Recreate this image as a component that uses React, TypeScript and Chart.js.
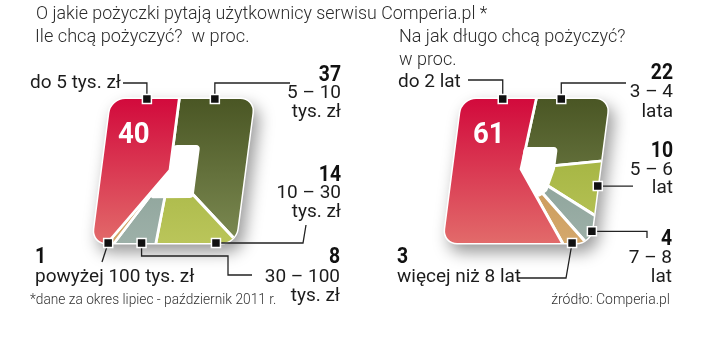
import React, { useEffect, useRef } from 'react';
import { Chart, registerables } from 'chart.js';

Chart.register(...registerables);

// ---------- texts ----------
const TITLE = 'O jakie pożyczki pytają użytkownicy serwisu Comperia.pl *';
const AMOUNT_TITLE = 'Ile chcą pożyczyć?  w proc.';
const DURATION_TITLE = 'Na jak długo chcą pożyczyć?';
const DURATION_UNIT = 'w proc.';
const FOOTNOTE = '*dane za okres lipiec - październik 2011 r.';
const SOURCE = 'źródło: Comperia.pl';

// ---------- data ----------
const amountLabels = [['5 – 10', 'tys. zł'], ['10 – 30', 'tys. zł'], ['30 – 100', 'tys. zł'], ['powyżej 100 tys. zł'], ['do 5 tys. zł']];
const amountValues = [37, 14, 8, 1, 40];
const durationLabels = [['3 – 4', 'lata'], ['5 – 6', 'lat'], ['7 – 8', 'lat'], ['więcej niż 8 lat'], ['do 2 lat']];
const durationValues = [22, 10, 4, 3, 61];

// slice colours (top → bottom gradient)
const sliceGradients = [
  ['#4a5624', '#7c8a52'],
  ['#98ab34', '#bac55a'],
  ['#7d968c', '#9db0a8'],
  ['#bf8946', '#d4a86c'],
  ['#d20a3c', '#e26a6a'],
];

type Seg = any[];
interface Layout {
  center: [number, number];
  radius: number;
  skew: number;
  rotation: number;
  rect: [number, number, number, number];
  corner: number;
  hole: any[];
  markerFrac: number[];
  leaders: Seg[][];
  labelPos: any[];
}

const LEFT: Layout = {
  center: [170, 170],
  radius: 120,
  skew: -0.13,
  rotation: 0,
  rect: [102, 99, 245, 243],
  corner: 14,
  hole: [[0, -25], [27, -25], [27, 28], { ray: 35 }, [0, 0]],
  markerFrac: [0.2, 0.19, 0.38, 0.9, 0.83],
  leaders: [
    [['v', 83], ['h', 290]],
    [['h', 303], ['l', 306, 225]],
    [['v', 256], ['h', 228], ['v', 275], ['h', 252]],
    [['l', 102, 262]],
    [['v', 83], ['h', 123]],
  ],
  labelPos: [
    { x: 341, align: 'right', valueY: 81, lineY: [98, 117] },
    { x: 341, align: 'right', valueY: 181, lineY: [198, 217] },
    { x: 340, align: 'right', valueY: 263, lineY: [282, 301] },
    { x: 35, align: 'left', valueY: 263, lineY: [282] },
    { x: 30, align: 'left', lineY: [88], inner: [118, 143] },
  ],
};

const RIGHT: Layout = {
  center: [521, 169],
  radius: 120,
  skew: -0.13,
  rotation: 5,
  rect: [453, 99, 600, 243],
  corner: 14,
  hole: [[0, -22], [34, -22], [34, 0], [29, 22], { ray: 36 }, [0, 0]],
  markerFrac: [0.24, 0.5, 0.56, 0.56, 0.88],
  leaders: [
    [['v', 83], ['h', 626]],
    [['h', 633]],
    [['h', 647], ['v', 238]],
    [['l', 566, 278], ['h', 518]],
    [['v', 80], ['h', 468]],
  ],
  labelPos: [
    { x: 673, align: 'right', valueY: 79, lineY: [97, 117] },
    { x: 673, align: 'right', valueY: 157, lineY: [175, 193] },
    { x: 672, align: 'right', valueY: 245, lineY: [263, 282] },
    { x: 397, align: 'left', valueY: 263, lineY: [282] },
    { x: 398, align: 'left', lineY: [87], inner: [473, 143] },
  ],
};

const FONT = 'Roboto, "Noto Sans", sans-serif';

function drawText(ctx: CanvasRenderingContext2D, str: string, x: number, y: number, o: any) {
  ctx.save();
  ctx.font = `${o.weight || 400} ${o.size}px ${FONT}`;
  ctx.fillStyle = o.color || '#1c1c1c';
  ctx.textAlign = o.align || 'left';
  ctx.textBaseline = 'alphabetic';
  ctx.translate(x, y);
  ctx.scale(o.sx || 1, 1);
  ctx.fillText(str, 0, 0);
  ctx.restore();
}

function roundRectPath(ctx: CanvasRenderingContext2D, x0: number, y0: number, x1: number, y1: number, r: number) {
  ctx.beginPath();
  ctx.moveTo(x0 + r, y0);
  ctx.arcTo(x1, y0, x1, y1, r);
  ctx.arcTo(x1, y1, x0, y1, r);
  ctx.arcTo(x0, y1, x0, y0, r);
  ctx.arcTo(x0, y0, x1, y0, r);
  ctx.closePath();
}

function roundPolyPath(ctx: CanvasRenderingContext2D, pts: number[][], r: number) {
  const n = pts.length;
  ctx.beginPath();
  const mid = (a: number[], b: number[]) => [(a[0] + b[0]) / 2, (a[1] + b[1]) / 2];
  const start = mid(pts[n - 1], pts[0]);
  ctx.moveTo(start[0], start[1]);
  for (let i = 0; i < n; i++) {
    const p = pts[i];
    const q = pts[(i + 1) % n];
    ctx.arcTo(p[0], p[1], q[0], q[1], r);
  }
  ctx.closePath();
}

function rayRect(cx: number, cy: number, a: number, rect: number[]) {
  const [x0, y0, x1, y1] = rect;
  const c = Math.cos(a);
  const s = Math.sin(a);
  let t = Infinity;
  if (c > 1e-9) t = Math.min(t, (x1 - cx) / c);
  if (c < -1e-9) t = Math.min(t, (x0 - cx) / c);
  if (s > 1e-9) t = Math.min(t, (y1 - cy) / s);
  if (s < -1e-9) t = Math.min(t, (y0 - cy) / s);
  return [cx + c * t, cy + s * t];
}

function buildChart(
  canvas: HTMLCanvasElement,
  values: number[],
  labels: string[][],
  L: Layout,
  extraText: (ctx: CanvasRenderingContext2D) => void
) {
  const [cx0, cy0] = L.center;
  const R = L.radius;
  const k = L.skew;
  const [x0, y0, x1, y1] = L.rect;

  const shapePlugin = {
    id: 'shapePlugin',
    beforeDatasetsDraw(chart: any) {
      const ctx: CanvasRenderingContext2D = chart.ctx;
      const arc0 = chart.getDatasetMeta(0).data[0];
      const cy = arc0 ? arc0.y : cy0;
      ctx.save();
      ctx.transform(1, 0, k, 1, -k * cy, 0);
      // shadow + white rim
      ctx.save();
      ctx.shadowColor = 'rgba(0,0,0,0.4)';
      ctx.shadowBlur = 16;
      ctx.shadowOffsetX = 5;
      ctx.shadowOffsetY = 8;
      roundRectPath(ctx, x0 - 1.5, y0 - 1.5, x1 + 1.5, y1 + 1.5, L.corner + 1.5);
      ctx.fillStyle = '#ffffff';
      ctx.fill();
      ctx.restore();
      roundRectPath(ctx, x0, y0, x1, y1, L.corner);
      ctx.clip();
    },
    afterDatasetsDraw(chart: any) {
      const ctx: CanvasRenderingContext2D = chart.ctx;
      const arcs = chart.getDatasetMeta(0).data;
      const cx = arcs[0].x;
      const cy = arcs[0].y;
      const red = arcs[arcs.length - 1];
      const a = red.startAngle;
      const pts = L.hole.map((p: any) =>
        Array.isArray(p) ? [cx + p[0], cy + p[1]] : [cx + p.ray * Math.cos(a), cy + p.ray * Math.sin(a)]
      );
      roundPolyPath(ctx, pts, 4);
      ctx.fillStyle = '#ffffff';
      ctx.fill();
      ctx.restore();

      const toScreen = (x: number, y: number) => [x + k * (y - cy), y];

      // leaders and markers
      const markers: number[][] = [];
      arcs.forEach((arc: any, i: number) => {
        const ang = arc.startAngle + L.markerFrac[i] * (arc.endAngle - arc.startAngle);
        const [lx, ly] = rayRect(cx, cy, ang, L.rect);
        const [sx, sy] = toScreen(lx, ly);
        markers.push([sx, sy]);
        ctx.save();
        ctx.strokeStyle = '#222';
        ctx.lineWidth = 1.3;
        ctx.beginPath();
        ctx.moveTo(sx, sy);
        let px = sx;
        let py = sy;
        for (const seg of L.leaders[i]) {
          if (seg[0] === 'v') py = seg[1];
          else if (seg[0] === 'h') px = seg[1];
          else {
            px = seg[1];
            py = seg[2];
          }
          ctx.lineTo(px, py);
        }
        ctx.stroke();
        ctx.restore();
      });
      markers.forEach(([sx, sy]) => {
        ctx.save();
        ctx.fillStyle = '#111';
        ctx.strokeStyle = '#ffffff';
        ctx.lineWidth = 1.5;
        ctx.beginPath();
        ctx.rect(sx - 4.5, sy - 4.5, 9, 9);
        ctx.fill();
        ctx.stroke();
        ctx.restore();
      });

      // labels
      values.forEach((v, i) => {
        const p = L.labelPos[i];
        if (p.inner) {
          drawText(ctx, String(v), p.inner[0], p.inner[1], { size: 29, weight: 700, color: '#ffffff', sx: 0.95 });
        } else {
          drawText(ctx, String(v), p.x, p.valueY, { size: 22, weight: 700, color: '#111', align: p.align, sx: 0.88 });
        }
        labels[i].forEach((line, j) => {
          drawText(ctx, line, p.x, p.lineY[j], { size: 19, weight: 400, color: '#1c1c1c', align: p.align });
        });
      });
      extraText(ctx);
    },
  };

  return new Chart(canvas, {
    type: 'pie',
    data: {
      labels: labels.map((l) => l.join(' ')),
      datasets: [
        {
          data: values,
          backgroundColor: (c: any) => {
            const i = c.dataIndex;
            if (i === undefined || !c.chart.ctx) return sliceGradients[0][0];
            const g = c.chart.ctx.createLinearGradient(0, y0, 0, y1);
            g.addColorStop(0, sliceGradients[i][0]);
            g.addColorStop(1, sliceGradients[i][1]);
            return g;
          },
          borderColor: '#ffffff',
          borderWidth: 2.8,
          hoverOffset: 0,
        } as any,
      ],
    },
    options: {
      responsive: false,
      animation: false,
      rotation: L.rotation,
      events: [],
      layout: {
        padding: { left: cx0 - R, top: cy0 - R, right: 720 - cx0 - R, bottom: 353 - cy0 - R },
      },
      plugins: {
        legend: { display: false },
        tooltip: { enabled: false },
        title: { display: false },
      },
    } as any,
    plugins: [shapePlugin],
  });
}

export default function App() {
  const leftRef = useRef<HTMLCanvasElement>(null);
  const rightRef = useRef<HTMLCanvasElement>(null);

  useEffect(() => {
    const left = buildChart(leftRef.current!, amountValues, amountLabels, LEFT, (ctx) => {
      drawText(ctx, TITLE, 36, 19, { size: 18, weight: 300, color: '#2b2b2b', sx: 0.99 });
      drawText(ctx, AMOUNT_TITLE, 35, 42, { size: 18, weight: 300, color: '#2b2b2b', sx: 1.01 });
      drawText(ctx, FOOTNOTE, 30, 304, { size: 14, weight: 300, color: '#333', sx: 0.98 });
    });
    const right = buildChart(rightRef.current!, durationValues, durationLabels, RIGHT, (ctx) => {
      drawText(ctx, DURATION_TITLE, 399, 42, { size: 18, weight: 300, color: '#2b2b2b' });
      drawText(ctx, DURATION_UNIT, 399, 65, { size: 18, weight: 300, color: '#2b2b2b' });
      drawText(ctx, SOURCE, 670, 304, { size: 14, weight: 300, color: '#333', align: 'right' });
    });
    return () => {
      left.destroy();
      right.destroy();
    };
  }, []);

  const cs: React.CSSProperties = { position: 'absolute', left: 0, top: 0, width: 720, height: 353 };
  return (
    <div style={{ position: 'fixed', left: 0, top: 0, width: 720, height: 353, background: '#ffffff' }}>
      <canvas ref={leftRef} width={720} height={353} style={cs} />
      <canvas ref={rightRef} width={720} height={353} style={cs} />
    </div>
  );
}
